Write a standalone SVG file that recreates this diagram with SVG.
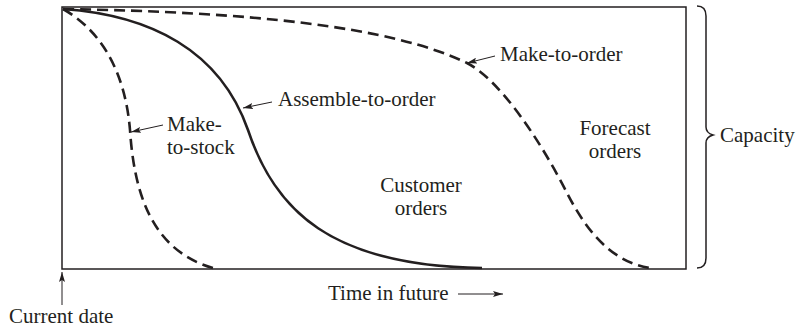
<svg xmlns="http://www.w3.org/2000/svg" width="800" height="329" viewBox="0 0 800 329">
<style>
text{font-family:"Liberation Serif","Times New Roman",serif;font-size:21px;fill:#231f20}
.box{fill:none;stroke:#231f20;stroke-width:1.5}
.curve{fill:none;stroke:#231f20;stroke-width:2.6}
.dash{stroke-dasharray:11 6}
.lead{fill:none;stroke:#231f20;stroke-width:1}
</style>
<defs>
<marker id="ah" viewBox="0 0 10 6" refX="10" refY="3" markerWidth="10" markerHeight="6" markerUnits="userSpaceOnUse" orient="auto">
<path d="M0,0 L10,3 L0,6 L2,3 Z" fill="#231f20"/>
</marker>
</defs>
<g id="chart">
<rect class="box" x="62" y="7" width="624" height="262"/>
</g>
<g id="connectors">
<path id="make-to-stock" class="curve dash" d="M63,9 C100,30 125,70 130,130 C134,190 150,250 213,268"/>
<path id="assemble-to-order" class="curve" d="M63,9 C150,15 220,50 248,130 C275,210 330,266 482,268"/>
<path id="make-to-order" class="curve dash" d="M63,9 C250,12 390,26 467,63 C500,80 540,140 567,193 C585,228 610,262 650,268"/>
<line class="lead" x1="163" y1="125" x2="131" y2="132" marker-end="url(#ah)"/>
<line class="lead" x1="272" y1="102" x2="243" y2="108" marker-end="url(#ah)"/>
<line class="lead" x1="495" y1="56" x2="467" y2="63" marker-end="url(#ah)"/>
<line class="lead" x1="62" y1="305" x2="62" y2="272" marker-end="url(#ah)"/>
<line class="lead" x1="458" y1="294" x2="503" y2="294" marker-end="url(#ah)"/>
<path class="box" d="M697,6 Q706,6 706,16 L706,127 Q706,133 713,135 Q706,137 706,143 L706,258 Q706,268 697,268"/>
</g>
<g id="labels">
<text x="167" y="131">Make-</text>
<text x="167" y="154">to-stock</text>
<text x="278" y="106">Assemble-to-order</text>
<text x="500" y="61">Make-to-order</text>
<text x="421" y="192" text-anchor="middle">Customer</text>
<text x="421" y="215" text-anchor="middle">orders</text>
<text x="615" y="135" text-anchor="middle">Forecast</text>
<text x="615" y="158" text-anchor="middle">orders</text>
<text x="720" y="142">Capacity</text>
<text x="328" y="300">Time in future</text>
<text x="9" y="323">Current date</text>
</g>
</svg>
